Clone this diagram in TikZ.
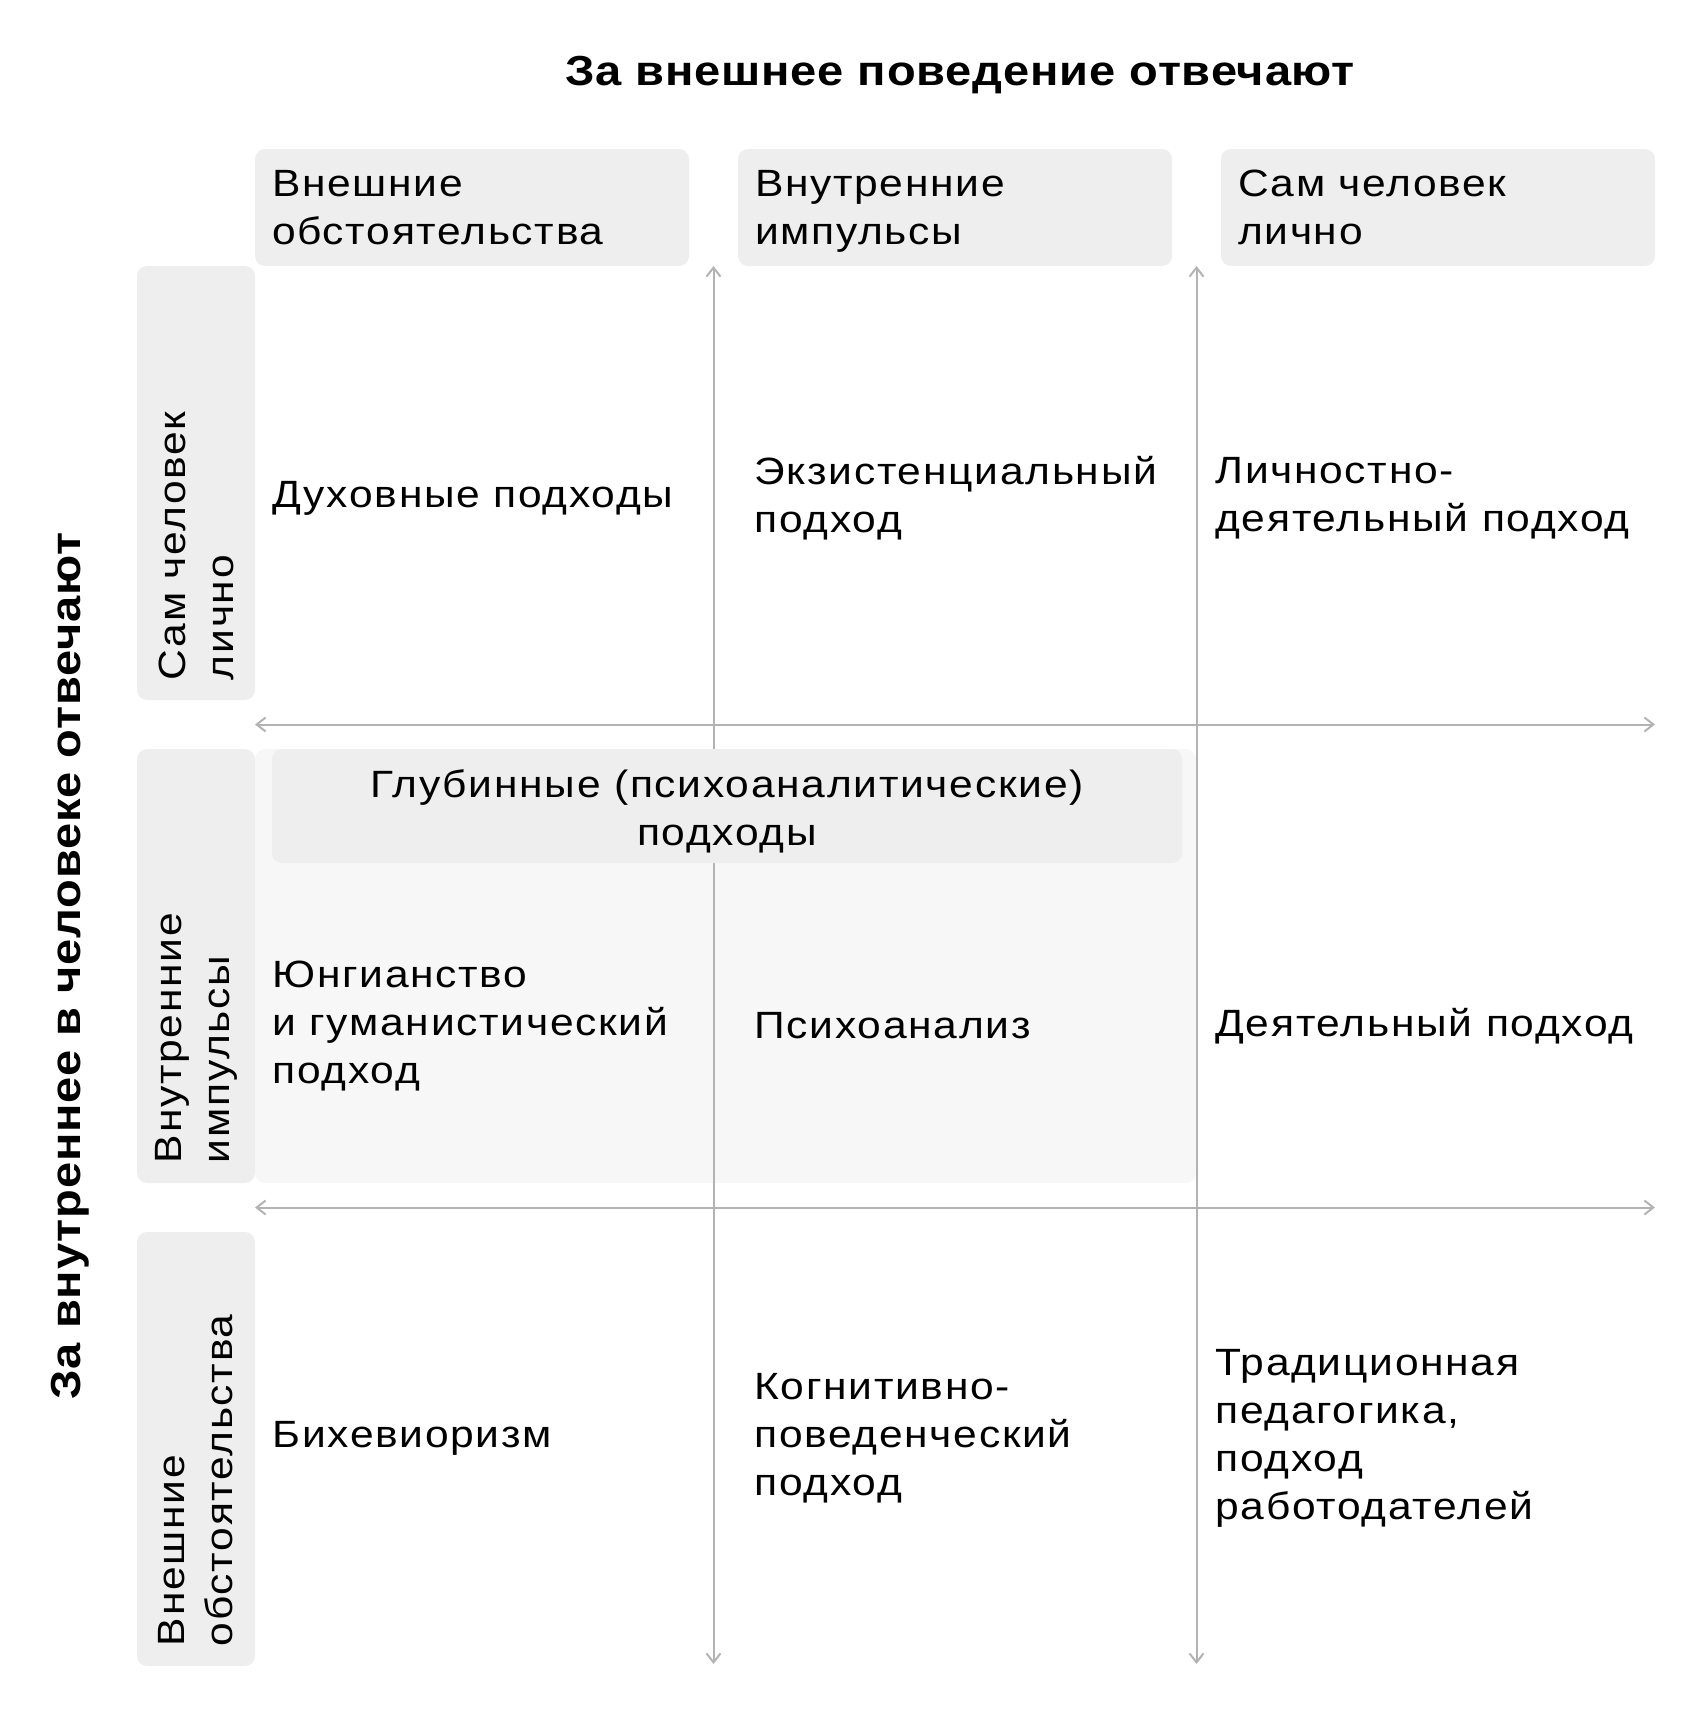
\documentclass[tikz,border=0pt]{standalone}
\usepackage{fontspec}
\setmainfont{Liberation Sans}[FakeStretch=1.12,LetterSpace=4.5]
\usetikzlibrary{arrows.meta}
\definecolor{boxgrey}{HTML}{EEEEEE}
\definecolor{paleshade}{HTML}{F7F7F7}
\definecolor{axisgrey}{HTML}{B3B3B3}

\begin{document}
\begin{tikzpicture}[x=0.5pt,y=-0.5pt,
  every node/.style={font=\fontsize{19}{24}\selectfont,inner sep=0pt},
  titletext/.style={font=\fontsize{21}{26}\selectfont\bfseries\addfontfeature{LetterSpace=2}},
  headbox/.style={fill=boxgrey,rounded corners=5pt,text width=200pt,inner xsep=8.5pt,minimum height=58.5pt,align=left},
  sidebox/.style={fill=boxgrey,rounded corners=5pt,rotate=90,text width=197pt,inner xsep=10pt,minimum height=59pt,align=left},
  cell/.style={anchor=west,align=left},
  axis/.style={draw=axisgrey,line width=1pt,{Straight Barb[length=4.5pt,width=7pt]}-{Straight Barb[length=4.5pt,width=7pt]}}]
\useasboundingbox (0,0) rectangle (1704,1718);

\node[titletext] (topTitle) at (960,75) {За внешнее поведение отвечают};
\node[titletext,rotate=90] (sideTitle) at (70,966) {За внутреннее в человеке отвечают};

\node[headbox] (hExt) at (472,207.5) {Внешние\\обстоятельства};
\node[headbox] (hImp) at (955,207.5) {Внутренние\\\raisebox{0pt}[\height][0pt]{импульсы}};
\node[headbox] (hSelf) at (1438,207.5) {Сам человек\\лично};

\node[sidebox] (rSelf) at (196,483) {Сам человек\\лично};
\node[sidebox] (rImp) at (196,966) {Внутренние\\импульсы};
\node[sidebox] (rExt) at (196,1449) {Внешние\\обстоятельства};

\fill[paleshade,rounded corners=5pt] (255,749) rectangle (1196,1183);

\coordinate (v1top) at (713.5,266);
\coordinate (v1bot) at (713.5,1664);
\coordinate (v2top) at (1196.5,266);
\coordinate (v2bot) at (1196.5,1664);
\coordinate (h1left) at (255,724.5);
\coordinate (h1right) at (1655,724.5);
\coordinate (h2left) at (255,1207.5);
\coordinate (h2right) at (1655,1207.5);
\draw[axis] (v1top) -- (v1bot);
\draw[axis] (v2top) -- (v2bot);
\draw[axis] (h1left) -- (h1right);
\draw[axis] (h2left) -- (h2right);

\node[fill=boxgrey,rounded corners=5pt,minimum width=455pt,minimum height=57pt] (deepBox) at (727,806) {};
\node[align=center] (deepText) at (727,811.5) {Глубинные (психоаналитические)\\подходы};

\node[cell] (spiritual) at (272,498) {Духовные подходы};
\node[cell] (existential) at (754,498) {Экзистенциальный\\подход};
\node[cell] (personal) at (1215,498) {Личностно-\\деятельный подход};
\node[cell] (jung) at (272,1026) {Юнгианство\\и гуманистический\\подход};
\node[cell] (psychoanalysis) at (754,1026) {Психоанализ};
\node[cell] (activity) at (1215,1026) {Деятельный подход};
\node[cell] (behaviorism) at (272,1438) {Бихевиоризм};
\node[cell] (cognitive) at (754,1438) {Когнитивно-\\поведенческий\\подход};
\node[cell] (traditional) at (1215,1438) {Традиционная\\педагогика,\\подход\\работодателей};
\end{tikzpicture}
\end{document}
